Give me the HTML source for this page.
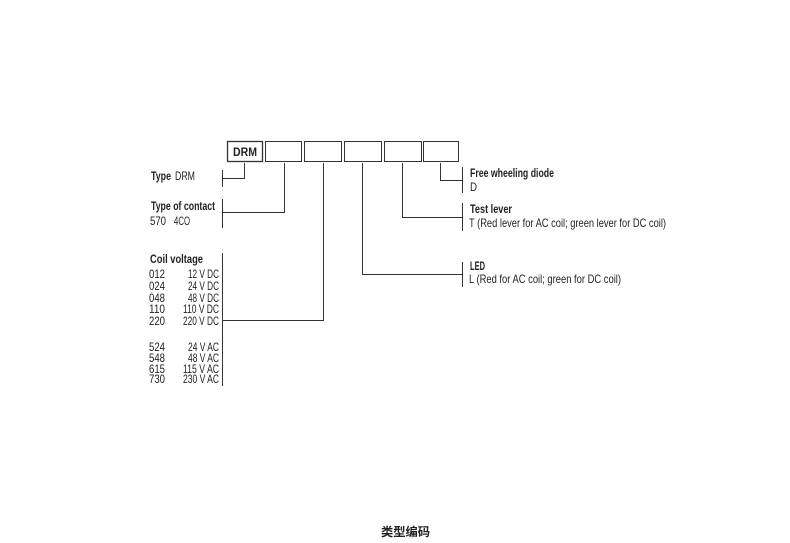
<!DOCTYPE html>
<html><head><meta charset="utf-8"><style>
html,body{margin:0;padding:0;background:#fff;}
svg{display:block;}
text{font-family:"Liberation Sans",sans-serif;font-size:12px;fill:#222;}
.b{font-weight:bold;}
</style></head><body>
<svg width="790" height="543" viewBox="0 0 790 543" xmlns="http://www.w3.org/2000/svg">
<g fill="none" stroke="#333" stroke-width="1">
<rect x="227.5" y="141.5" width="35" height="20" stroke-width="1.3"/>
<rect x="265.5" y="141.5" width="36" height="20"/>
<rect x="304.5" y="141.5" width="37" height="20"/>
<rect x="344.5" y="141.5" width="37" height="20"/>
<rect x="384.5" y="141.5" width="37" height="20"/>
<rect x="423.5" y="141.5" width="35" height="20"/>
<polyline points="244.5,163 244.5,178.5 222,178.5"/>
<line x1="222.5" y1="170" x2="222.5" y2="187"/>
<polyline points="284.5,163 284.5,212.5 222,212.5"/>
<line x1="222.5" y1="199" x2="222.5" y2="228"/>
<polyline points="323.5,163 323.5,320.5 222,320.5"/>
<line x1="222.5" y1="253" x2="222.5" y2="386"/>
<polyline points="362.5,163 362.5,274.5 463,274.5"/>
<line x1="462.5" y1="262" x2="462.5" y2="287"/>
<polyline points="402.5,163 402.5,217.5 463,217.5"/>
<line x1="462.5" y1="203" x2="462.5" y2="231"/>
<polyline points="440.5,163 440.5,180.5 463,180.5"/>
<line x1="462.5" y1="167" x2="462.5" y2="193"/>
</g>
<text class="b" x="233" y="156" textLength="24" lengthAdjust="spacingAndGlyphs">DRM</text>
<text class="b" x="151" y="180" textLength="20" lengthAdjust="spacingAndGlyphs">Type</text>
<text x="175" y="180" textLength="20" lengthAdjust="spacingAndGlyphs">DRM</text>
<text class="b" x="151" y="210" textLength="64" lengthAdjust="spacingAndGlyphs">Type of contact</text>
<text x="150" y="225" textLength="16" lengthAdjust="spacingAndGlyphs">570</text>
<text x="174" y="225" textLength="16" lengthAdjust="spacingAndGlyphs">4CO</text>
<text class="b" x="150" y="263" textLength="53" lengthAdjust="spacingAndGlyphs">Coil voltage</text>
<g>
<text x="149" y="278" textLength="16" lengthAdjust="spacingAndGlyphs">012</text>
<text x="149" y="290" textLength="16" lengthAdjust="spacingAndGlyphs">024</text>
<text x="149" y="302" textLength="16" lengthAdjust="spacingAndGlyphs">048</text>
<text x="149" y="313" textLength="16" lengthAdjust="spacingAndGlyphs">110</text>
<text x="149" y="325" textLength="16" lengthAdjust="spacingAndGlyphs">220</text>
<text x="149" y="351" textLength="16" lengthAdjust="spacingAndGlyphs">524</text>
<text x="149" y="362" textLength="16" lengthAdjust="spacingAndGlyphs">548</text>
<text x="149" y="373" textLength="16" lengthAdjust="spacingAndGlyphs">615</text>
<text x="149" y="383" textLength="16" lengthAdjust="spacingAndGlyphs">730</text>
<text x="188" y="278" textLength="31" lengthAdjust="spacingAndGlyphs">12 V DC</text>
<text x="188" y="290" textLength="31" lengthAdjust="spacingAndGlyphs">24 V DC</text>
<text x="188" y="302" textLength="31" lengthAdjust="spacingAndGlyphs">48 V DC</text>
<text x="183" y="313" textLength="36" lengthAdjust="spacingAndGlyphs">110 V DC</text>
<text x="183" y="325" textLength="36" lengthAdjust="spacingAndGlyphs">220 V DC</text>
<text x="188" y="351" textLength="31" lengthAdjust="spacingAndGlyphs">24 V AC</text>
<text x="188" y="362" textLength="31" lengthAdjust="spacingAndGlyphs">48 V AC</text>
<text x="183" y="373" textLength="36" lengthAdjust="spacingAndGlyphs">115 V AC</text>
<text x="183" y="383" textLength="36" lengthAdjust="spacingAndGlyphs">230 V AC</text>
</g>
<text class="b" x="470" y="177" textLength="84" lengthAdjust="spacingAndGlyphs">Free wheeling diode</text>
<text x="470" y="191" textLength="7" lengthAdjust="spacingAndGlyphs">D</text>
<text class="b" x="470" y="213" textLength="42" lengthAdjust="spacingAndGlyphs">Test lever</text>
<text x="469" y="227" textLength="197" lengthAdjust="spacingAndGlyphs">T (Red lever for AC coil; green lever for DC coil)</text>
<text class="b" x="470" y="270" textLength="15" lengthAdjust="spacingAndGlyphs">LED</text>
<text x="469" y="283" textLength="152" lengthAdjust="spacingAndGlyphs">L (Red for AC coil; green for DC coil)</text>
<text x="381" y="536" style="font-family:'Liberation Sans','Noto Sans CJK SC',sans-serif;font-size:12px;font-weight:bold;" textLength="49" lengthAdjust="spacingAndGlyphs">类型编码</text>
</svg>
</body></html>
